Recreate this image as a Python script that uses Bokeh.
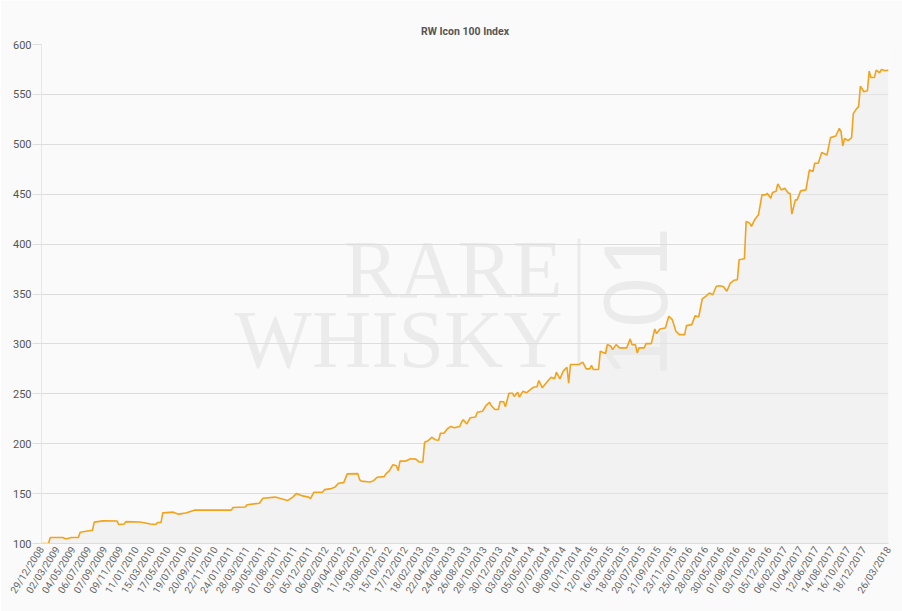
import math
import pandas as pd
from bokeh.plotting import figure
from bokeh.models import (ColumnDataSource, Range1d, FixedTicker,
                          DatetimeTickFormatter, Label, BoxAnnotation)
from bokeh.embed import file_html
from bokeh.resources import INLINE

# weekly index, week 0 = 29/12/2008
start_date = "29/12/2008"
weeks = [0, 4, 5, 12, 14, 17, 21, 22, 28, 29, 30, 35, 43, 44, 47, 48, 56, 62, 65, 66,
         68, 69, 75, 78, 82, 83, 87, 108, 109, 116, 117, 124, 126, 133, 136, 140, 143,
         145, 148, 152, 153, 155, 160, 161, 165, 167, 169, 172, 174, 180, 181, 182, 187,
         189, 191, 195, 196, 198, 200, 202, 203, 204, 207, 210, 213, 215, 217, 218, 220,
         221, 222, 224, 226, 227, 229, 231, 233, 235, 238, 239, 240, 242, 244, 247, 248,
         251, 253, 255, 256, 258, 260, 261, 263, 264, 266, 268, 269, 271, 272, 274, 276,
         278, 280, 282, 283, 285, 288, 290, 292, 293, 295, 297, 299, 300, 301, 306, 308,
         310, 312, 313, 314, 317, 318, 321, 322, 324, 325, 327, 329, 333, 335, 336, 338,
         339, 340, 343, 344, 347, 349, 350, 352, 355, 357, 359, 361, 363, 366, 367, 370,
         372, 374, 376, 378, 380, 382, 384, 386, 388, 390, 392, 394, 396, 397, 400, 401,
         403, 404, 406, 408, 410, 412, 413, 415, 416, 418, 419, 421, 423, 425, 426, 427,
         429, 430, 432, 435, 437, 439, 440, 442, 444, 447, 449, 452, 454, 455, 456, 457,
         459, 461, 462, 464, 465, 466, 468, 470, 471, 472, 474, 475, 477, 478, 480, 482]
index_values = [100, 100, 106, 106, 104.6, 106, 106, 111.3, 113, 113, 121.4, 122.7, 122.5,
                119, 119.5, 121.9, 121.5, 119.5, 119, 121, 121, 130.7, 131.4, 129.4, 130.5,
                131, 133.4, 133.4, 136, 136.5, 138.8, 140.4, 145.4, 146.5, 145, 143, 146.5,
                150, 148, 146.5, 144.8, 151.4, 151.5, 154, 155, 156.5, 160.4, 161, 169.8,
                170, 164, 162.5, 161.6, 163, 166.4, 167, 169.8, 173, 179, 178, 173, 182.5,
                182.5, 184.9, 184.5, 181.6, 181.6, 201.5, 203, 204.5, 206.5, 204, 203.5,
                210.5, 210.5, 215, 217.3, 216, 217.3, 221.5, 224, 219.8, 226, 226.8, 231.6,
                232.6, 238.3, 241.3, 238, 234.3, 234.3, 242.3, 242, 237, 250.6, 250.6,
                247.3, 251.6, 246.6, 252.6, 251, 254, 256.6, 257, 263.3, 256, 262.6, 266.6,
                265, 271.6, 265, 273, 276.6, 260.6, 279.4, 279.4, 281.8, 275, 275, 278.5,
                274.3, 274.3, 292.7, 290.3, 299.3, 297.7, 294.3, 299.3, 296, 296, 305,
                299.3, 299, 291, 296, 296, 300.3, 300.3, 315, 310.3, 315, 316, 327.7, 324.3,
                312.7, 309.3, 309.3, 318.3, 319.3, 328.3, 327, 345, 347.7, 351, 349.3,
                357.7, 358.3, 357.5, 352.7, 361, 363.7, 364.3, 384.3, 385.3, 422.7, 421,
                417.7, 425, 429.3, 449.3, 449.3, 451, 446, 451.7, 453, 460.3, 454.3, 456,
                451, 451, 430, 444.3, 444.3, 453.3, 454.3, 474.3, 472.7, 481, 481, 491.7,
                489.3, 506.7, 508.3, 516, 512.7, 498.3, 506, 503.7, 506.7, 531, 536, 537.7,
                558.3, 552.7, 553.7, 573.3, 567, 567, 574.3, 571.7, 575, 573.7, 574.3]

tick_labels = ["29/12/2008", "02/03/2009", "04/05/2009", "06/07/2009", "07/09/2009",
               "09/11/2009", "11/01/2010", "15/03/2010", "17/05/2010", "19/07/2010",
               "20/09/2010", "22/11/2010", "24/01/2011", "28/03/2011", "30/05/2011",
               "01/08/2011", "03/10/2011", "05/12/2011", "06/02/2012", "09/04/2012",
               "11/06/2012", "13/08/2012", "15/10/2012", "17/12/2012", "18/02/2013",
               "22/04/2013", "24/06/2013", "26/08/2013", "28/10/2013", "30/12/2013",
               "03/03/2014", "05/05/2014", "07/07/2014", "08/09/2014", "10/11/2014",
               "12/01/2015", "16/03/2015", "18/05/2015", "20/07/2015", "21/09/2015",
               "23/11/2015", "25/01/2016", "28/03/2016", "30/05/2016", "01/08/2016",
               "03/10/2016", "05/12/2016", "06/02/2017", "10/04/2017", "12/06/2017",
               "14/08/2017", "16/10/2017", "18/12/2017", "26/03/2018"]
y_ticks = [100, 150, 200, 250, 300, 350, 400, 450, 500, 550, 600]

t0 = pd.to_datetime(start_date, format="%d/%m/%Y")
dates = t0 + pd.to_timedelta([w * 7 for w in weeks], unit="D")
src = ColumnDataSource(dict(date=dates, value=index_values))

tick_dates = pd.to_datetime(tick_labels, format="%d/%m/%Y")
tick_ms = list(tick_dates.asi8 // 10**6)

p = figure(width=902, height=611, x_axis_type="datetime",
           x_range=Range1d(dates[0], dates[-1]), y_range=Range1d(100, 600),
           output_backend="svg", toolbar_location=None,
           min_border_left=41, min_border_right=14, min_border_top=44, min_border_bottom=68,
           title="RW Icon 100 Index")

p.background_fill_color = "#fafafa"
p.border_fill_color = "#fafafa"
p.outline_line_color = None

p.title.align = "center"
p.title.text_font = "Roboto"
p.title.text_font_size = "10.5px"
p.title.text_font_style = "bold"
p.title.text_color = "#555555"
p.title.standoff = 13

# watermark
wm = "#ebebeb"
p.add_layout(Label(x=521, y=274, x_units="screen", y_units="screen", text="RARE",
                   text_align="right", text_baseline="alphabetic", text_font="Liberation Serif",
                   text_font_size="82px", text_color=wm, level="image"))
p.add_layout(Label(x=521, y=204, x_units="screen", y_units="screen", text="WHISKY",
                   text_align="right", text_baseline="alphabetic", text_font="Liberation Serif",
                   text_font_size="82px", text_color=wm, level="image"))
p.add_layout(BoxAnnotation(left=536, right=539, bottom=177, top=305,
                           left_units="screen", right_units="screen",
                           bottom_units="screen", top_units="screen",
                           fill_color=wm, fill_alpha=1, line_color=None, level="image"))
p.add_layout(Label(x=594, y=241, x_units="screen", y_units="screen", text="101",
                   angle=math.pi / 2, text_align="center", text_baseline="middle",
                   text_font="Liberation Sans", text_font_size="90px", text_color=wm,
                   level="image"))

p.varea(x="date", y1=100, y2="value", source=src, fill_color="#e8e8e8", fill_alpha=0.45)
p.line(x="date", y="value", source=src, line_color="#f2a31b", line_width=1.6)

p.xgrid.visible = False
p.ygrid.grid_line_color = "#dddddd"
p.ygrid.grid_line_width = 1

p.xaxis.ticker = FixedTicker(ticks=tick_ms)
fmt = "%d/%m/%Y"
p.xaxis.formatter = DatetimeTickFormatter(milliseconds=fmt, seconds=fmt, minsec=fmt,
                                          minutes=fmt, hourmin=fmt, hours=fmt, days=fmt,
                                          months=fmt, years=fmt)
p.xaxis.major_label_orientation = 1.0
p.xaxis.major_tick_out = 0
p.xaxis.major_tick_in = 0
p.xaxis.minor_tick_out = 0
p.xaxis.minor_tick_in = 0
p.xaxis.axis_line_color = "#dddddd"
p.xaxis.major_label_text_font = "Roboto"
p.xaxis.major_label_text_font_size = "10px"
p.xaxis.major_label_text_color = "#666666"
p.xaxis.major_label_standoff = 4

p.yaxis.ticker = FixedTicker(ticks=y_ticks)
p.yaxis.major_tick_out = 9
p.yaxis.major_tick_in = 0
p.yaxis.minor_tick_out = 0
p.yaxis.minor_tick_in = 0
p.yaxis.major_tick_line_color = "#dddddd"
p.yaxis.axis_line_color = "#e6e6e6"
p.yaxis.major_label_text_font = "Roboto"
p.yaxis.major_label_text_font_size = "11px"
p.yaxis.major_label_text_color = "#555555"
p.yaxis.major_label_standoff = 1

open("out.html", "w").write(file_html(p, INLINE))
